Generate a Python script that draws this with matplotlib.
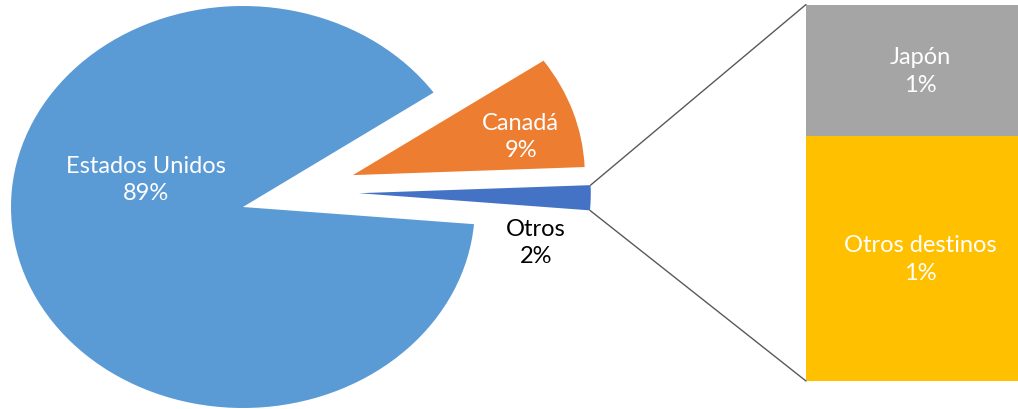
import numpy as np
import matplotlib
matplotlib.use('Agg')
import matplotlib.pyplot as plt
from matplotlib.patches import ConnectionPatch

plt.rcParams['font.family'] = ['Lato', 'DejaVu Sans']

# data
pie_labels = ['Estados Unidos', 'Otros', 'Canadá']
pie_values = [89, 2, 9]
pie_colors = ['#5B9BD5', '#4472C4', '#ED7D31']

bar_labels = ['Otros destinos', 'Japón']
bar_values = [1.3, 0.7]
bar_shown = ['1%', '1%']
bar_colors = ['#FFC000', '#A5A5A5']

W, H = 1018, 410
fig = plt.figure(figsize=(W/100, H/100), dpi=100)

# pie axes (stretched a bit in x, like the original picture)
ax = fig.add_axes([11/W, 1/H, 603/W, 402/H])
wedges, _ = ax.pie(pie_values, colors=pie_colors, startangle=34.7,
                   counterclock=True, explode=[0, 0.5, 0.5],
                   wedgeprops=dict(linewidth=0))
ax.set_aspect('auto')
ax.set_xlim(-1, 1.6)
ax.set_ylim(-1, 1)
ax.axis('off')

# Excel pushes the small slice a bit up
c = wedges[1].center
wedges[1].set_center((c[0], c[1] + 0.08))
for w in wedges:
	w.set_clip_on(False)

fs = 17
ls = 1.4
ax.text(-0.418, 0.139, 'Estados Unidos\n89%', color='white', fontsize=fs,
		ha='center', va='center', linespacing=ls)
ax.text(1.198, 0.353, 'Canadá\n9%', color='white', fontsize=fs,
		ha='center', va='center', linespacing=ls)
ax.text(1.263, -0.174, 'Otros\n2%', color='black', fontsize=fs,
		ha='center', va='center', linespacing=ls)

# bar axes
bx = fig.add_axes([806/W, 28/H, 228/W, 376.5/H])
bottom = 0
for v, lab, txt, col in zip(bar_values, bar_labels, bar_shown, bar_colors):
	bx.bar(0, v, width=1, bottom=bottom, color=col, linewidth=0)
	bx.text(0, bottom + v/2, lab + '\n' + txt, color='white', fontsize=fs,
			ha='center', va='center', linespacing=ls)
	bottom += v
bx.set_xlim(-0.5, 0.5)
bx.set_ylim(0, sum(bar_values))
bx.axis('off')

# connector lines from the small slice to the bar
w = wedges[1]
cx, cy = w.center
p_top = (cx + np.cos(np.radians(w.theta2)), cy + np.sin(np.radians(w.theta2)))
p_bot = (cx + np.cos(np.radians(w.theta1)), cy + np.sin(np.radians(w.theta1)))
for pa, pb in [(p_top, (0, 1)), (p_bot, (0, 0))]:
	con = ConnectionPatch(xyA=pa, coordsA=ax.transData, xyB=pb, coordsB=bx.transAxes,
						  color='#595959', lw=1)
	fig.add_artist(con)

fig.savefig('out.png', dpi=100)
